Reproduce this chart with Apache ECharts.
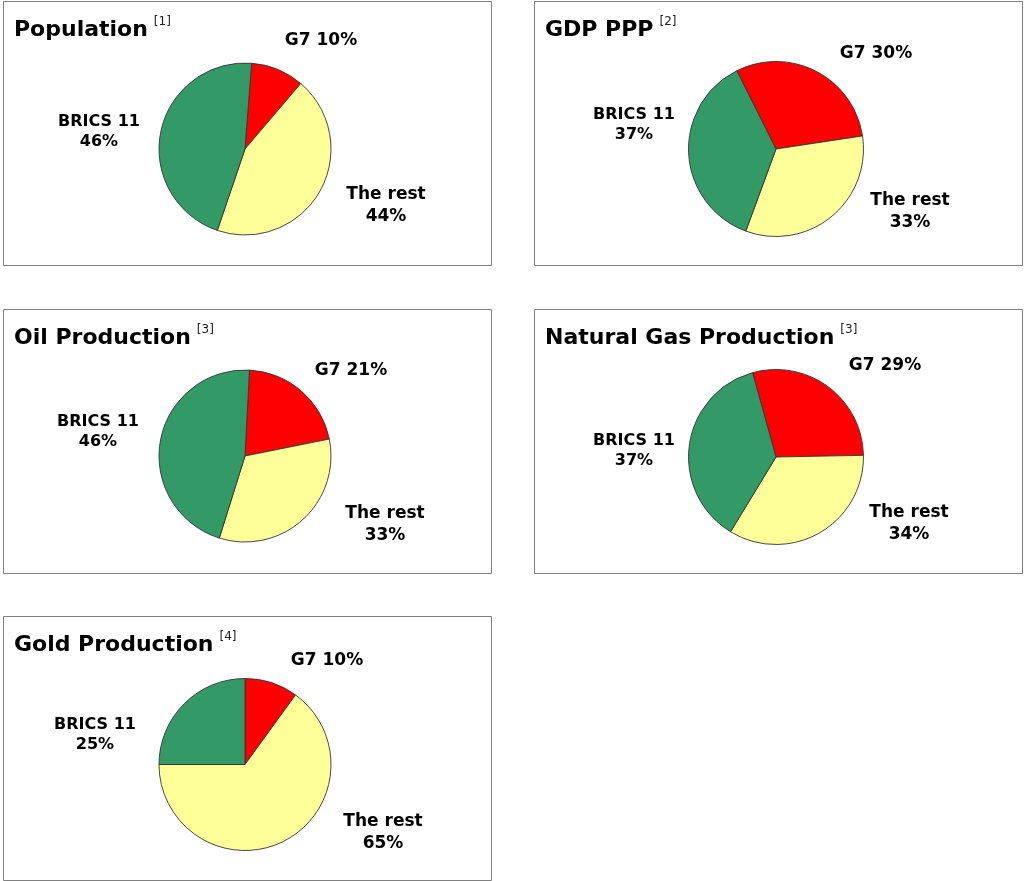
<!DOCTYPE html>
<html lang="en">
<head>
    <meta charset="UTF-8">
    <title>BRICS 11 vs G7</title>
    <style>
        html, body { margin: 0; padding: 0; background: #fff; }
        #main { width: 1024px; height: 881px; }
    </style>
</head>
<body>
<div id="main"></div>
<script type="text/javascript" src="https://cdn.jsdelivr.net/npm/echarts@6.0.0/dist/echarts.min.js"></script>
<script>
    // data: one share list per chart, order G7 / The rest / BRICS 11 (clockwise)
    const groups = ['G7', 'The rest', 'BRICS 11'];
    const chartTitles = ['Population', 'GDP PPP', 'Oil Production', 'Natural Gas Production', 'Gold Production'];
    const refs = ['[1]', '[2]', '[3]', '[3]', '[4]'];
    const population = [10, 44, 46];
    const gdpPpp = [30, 33, 37];
    const oilProduction = [21, 33, 46];
    const gasProduction = [29, 34, 37];
    const goldProduction = [10, 65, 25];
    const allValues = [population, gdpPpp, oilProduction, gasProduction, goldProduction];

    const colors = ['#ff0000', '#ffff99', '#339966'];
    const font = 'DejaVu Sans';

    // panel boxes and pie geometry
    const panels = [
        {x: 3, y: 1, cx: 245, cy: 149, r: 86, start: 85.6},
        {x: 534, y: 1, cx: 776, cy: 149, r: 87.5, start: 116.6},
        {x: 3, y: 309, cx: 245, cy: 456, r: 86, start: 87},
        {x: 534, y: 309, cx: 776, cy: 457, r: 87.5, start: 105.5},
        {x: 3, y: 616, cx: 245, cy: 764.5, r: 86, start: 90}
    ];
    const panelW = 488, panelH = 264;
    // label centres, relative to the pie centre (G7, The rest, BRICS 11)
    const labelOffsets = [
        [[76, -108], [141, 57], [-146, -17]],
        [[100, -95], [134, 63], [-142, -24]],
        [[106, -85], [140, 69], [-147, -24]],
        [[109, -91], [133, 67], [-142, -6]],
        [[82, -104], [138, 68], [-150, -30]]
    ];

    let myChart = echarts.init(document.getElementById('main'));

    let titles = [];
    let graphics = [];
    let series = [];
    for (let i = 0; i < panels.length; i++) {
        let p = panels[i];
        graphics.push({
            type: 'rect',
            shape: {x: p.x + 0.5, y: p.y + 0.5, width: panelW, height: panelH},
            style: {fill: '#fff', stroke: '#808080', lineWidth: 1},
            z: -10
        });
        titles.push({
            text: '{t|' + chartTitles[i] + '}{s|' + refs[i] + '}',
            left: p.x + 11,
            top: p.y + 15,
            padding: 0,
            textStyle: {
                fontWeight: 'normal',
                rich: {
                    t: {fontFamily: font, fontWeight: 'bold', fontSize: 22, color: '#000', lineHeight: 28},
                    s: {fontFamily: font, fontWeight: 'normal', fontSize: 12, color: '#222', lineHeight: 18,
                        verticalAlign: 'top', padding: [0, 0, 0, 6]}
                }
            }
        });
        let data = [];
        for (let j = 0; j < groups.length; j++) {
            data.push({
                name: groups[j],
                value: allValues[i][j],
                itemStyle: {color: colors[j]},
                label: {
                    fontSize: j === 2 ? 16 : 17,
                    lineHeight: j === 2 ? 20 : 22
                }
            });
        }
        const offs = labelOffsets[i];
        series.push({
            type: 'pie',
            center: [p.cx, p.cy],
            radius: p.r,
            startAngle: p.start,
            clockwise: true,
            animation: false,
            emphasis: {disabled: true},
            itemStyle: {borderColor: '#333', borderWidth: 0.9},
            label: {
                show: true,
                position: 'outside',
                fontFamily: font,
                fontWeight: 'bold',
                color: '#000',
                align: 'center',
                formatter: function (d) {
                    return d.name === 'G7' ? d.name + ' ' + d.value + '%' : d.name + '\n' + d.value + '%';
                }
            },
            labelLine: {show: false},
            labelLayout: function (params) {
                const o = offs[params.dataIndex];
                return {x: p.cx + o[0], y: p.cy + o[1], align: 'center', verticalAlign: 'middle'};
            },
            data: data
        });
    }

    let option = {
        backgroundColor: '#fff',
        animation: false,
        title: titles,
        graphic: graphics,
        series: series
    };

    myChart.setOption(option);
</script>
</body>
</html>
